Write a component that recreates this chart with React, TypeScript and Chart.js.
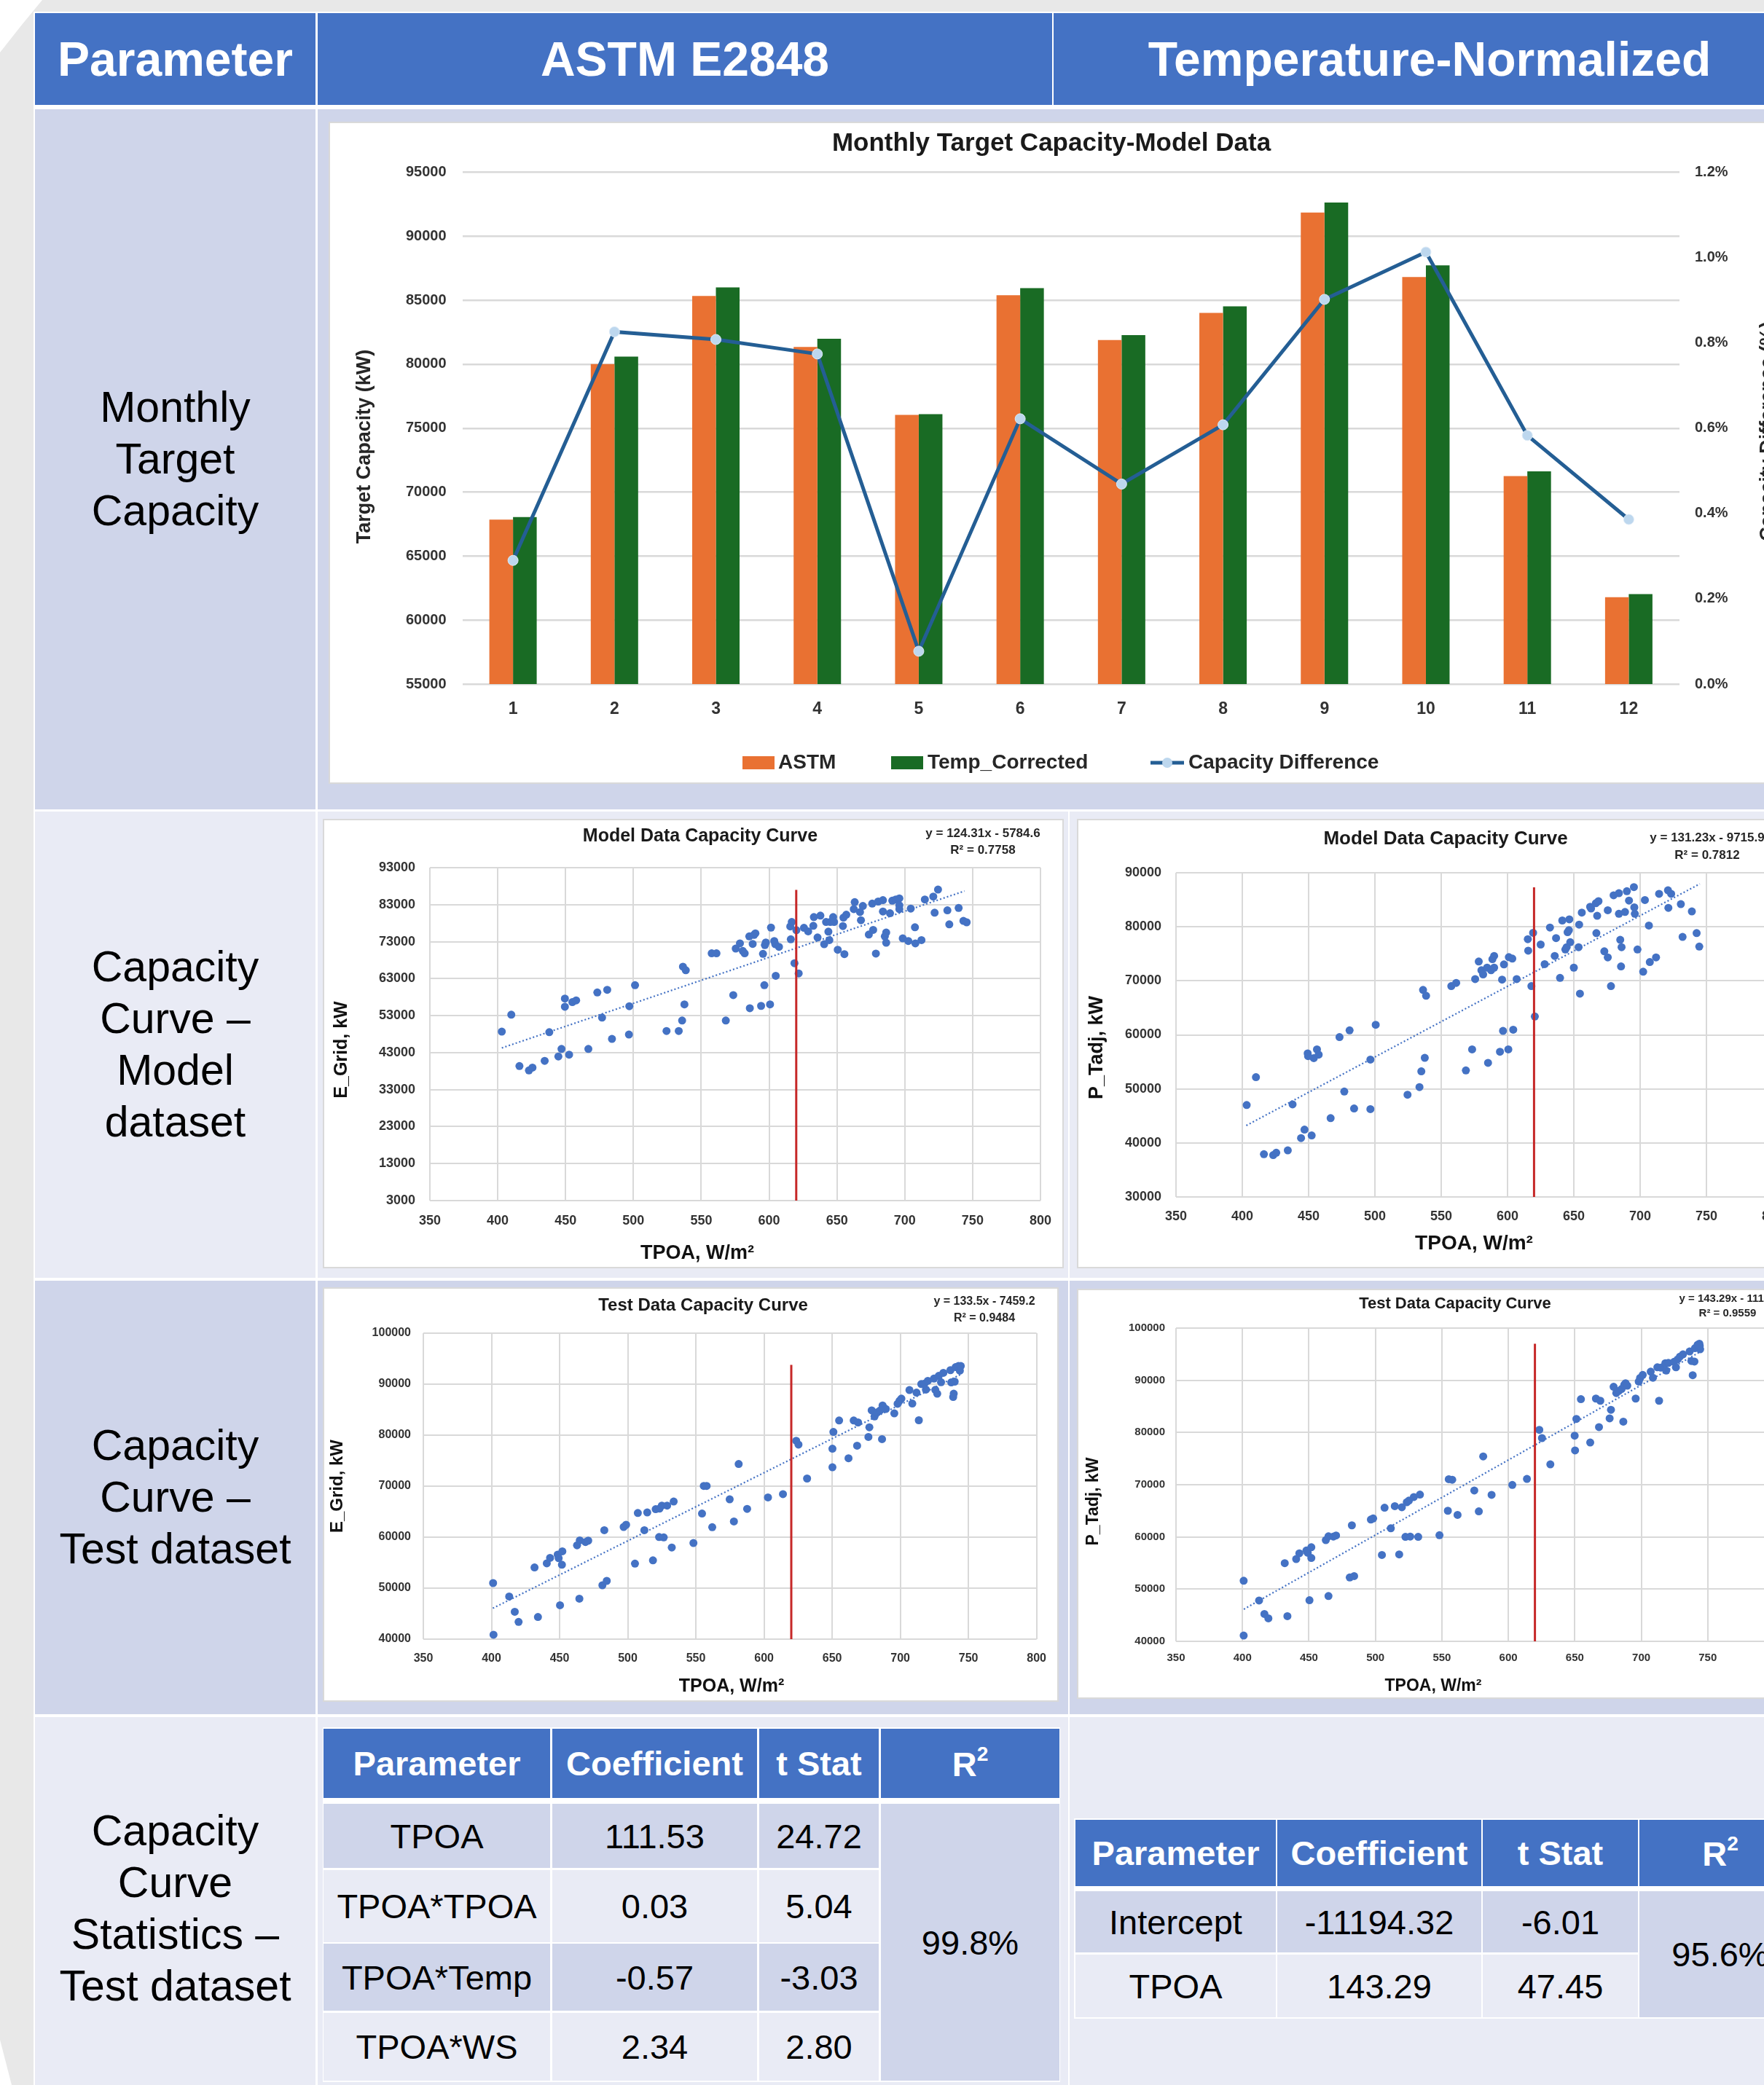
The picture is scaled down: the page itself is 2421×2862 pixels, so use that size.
import React, { useEffect, useRef } from "react";
import { Chart, registerables } from "chart.js";
Chart.register(...registerables);

const FONT = "'Liberation Sans', Arial, Helvetica, sans-serif";
const BLUE = "#4472C4";
const DARK = "#CFD5EA";
const LIGHT = "#E9EBF5";

// ---------- Monthly target capacity data ----------
const months = ["1", "2", "3", "4", "5", "6", "7", "8", "9", "10", "11", "12"];
const astmCapacity = [67850, 80010, 85330, 81350, 76040, 85390, 81890, 84010, 91860, 86810, 71250, 61790];
const tempCorrectedCapacity = [68050, 80600, 86000, 81990, 76100, 85940, 82270, 84520, 92640, 87730, 71620, 62030];
const capacityDifferencePct = [0.29, 0.826, 0.808, 0.774, 0.077, 0.622, 0.469, 0.608, 0.902, 1.013, 0.583, 0.386];

// ---------- Model dataset: TPOA vs E_Grid (ASTM) ----------
const modelAstmPts = [
  [403, 48680], [410, 53260], [416, 39360], [423, 38180], [425.6, 38960], [434.6, 40780], [438, 48530], [444.7, 41960],
  [447, 44000], [449.5, 57610], [449.5, 55400], [452.6, 42440], [455, 56660], [457.8, 57130], [466.8, 44000], [473.4, 59270],
  [476.9, 52470], [480.7, 59980], [484.2, 46700], [496.7, 47890], [497, 55550], [501.2, 61240], [524.4, 48840], [533.4, 48840],
  [535.9, 51680], [536.5, 66220], [538.6, 65270], [537.6, 56030], [557.7, 69850], [561.2, 69850], [568.1, 51680], [573.6, 58560],
  [575.4, 71120], [578.5, 72540], [580.6, 70490], [582, 69850], [585.4, 74430], [585.8, 55000], [587.9, 72380], [588.9, 74830],
  [589.9, 75230], [595.5, 69700], [596.5, 61240], [596.9, 72070], [597.6, 72770], [594.1, 55630], [600.7, 56030], [601.4, 76800],
  [603.8, 73170], [604.5, 72300], [604.9, 63770], [607.3, 71590], [616, 73640], [615.6, 77120], [616.7, 78310], [618.7, 67170],
  [620.1, 76090], [621.8, 64400], [625.7, 76730], [628.8, 75780], [632.6, 77280], [633, 79650], [635.7, 74120], [637.8, 80040],
  [640.6, 72300], [642, 78310], [643.7, 75700], [644.4, 73410], [645.1, 78310], [647.2, 79650], [647.9, 78310], [650.6, 70800],
  [654.4, 77200], [654.8, 79490], [655.5, 69620], [656.9, 80280], [662.4, 81780], [663.1, 83680], [667, 80990], [667.7, 78780],
  [669.1, 82650], [673.5, 74910], [676, 83280], [676.7, 76170], [678.7, 69770], [680.4, 83840], [683.9, 84230], [683.9, 81150],
  [685.3, 74430], [686.3, 75460], [686.3, 72700], [689.1, 80680], [690.8, 84070], [693.3, 84390], [696, 84700], [696, 82810],
  [696, 81780], [698.5, 73880], [702.6, 73170], [704.4, 81940], [707.5, 76880], [707.8, 72540], [712.3, 73410], [714.8, 84390],
  [721, 85180], [722, 80830], [724.5, 87080], [731.4, 81470], [732.8, 77670], [739.7, 82100], [743.2, 78620], [745.6, 78230],
];
const modelAstmTrend = [[403, 44260], [744, 86680]];
const modelAstmRef = [[620, 3000], [620, 87000]];

// ---------- Model dataset: TPOA vs P_Tadj (temperature-normalized) ----------
const modelTempPts = [
  [403.3, 47020], [410.3, 52170], [416.3, 37910], [423.3, 37750], [425.6, 38180], [434.3, 38620], [437.9, 47130], [444.3, 40900],
  [446.9, 42470], [449.3, 56560], [449.6, 56070], [452.3, 41380], [453.9, 55690], [456.3, 57320], [457.6, 56340], [466.6, 44580],
  [473.3, 59590], [476.9, 49510], [480.9, 60840], [484.3, 46370], [496.6, 46260], [496.6, 55420], [500.6, 61870], [524.6, 48920],
  [533.6, 50330], [535, 53250], [536.3, 68320], [538.6, 67240], [537.6, 55750], [557.6, 69020], [561.3, 69620], [568.6, 53420],
  [573.3, 57320], [575.6, 70330], [578.3, 73580], [580.3, 71950], [581.6, 71190], [584.6, 72440], [585.3, 54820], [587.6, 71950],
  [588.6, 74010], [589.9, 74610], [589.9, 72440], [594.3, 56880], [595.9, 70220], [596.6, 60730], [597.3, 73040], [600.6, 57320],
  [601, 74390], [603.6, 74120], [604.3, 60950], [606.9, 70330], [615.3, 77700], [615.6, 75580], [618, 69020], [619.3, 78890],
  [620.6, 63390], [625, 76720], [628, 73090], [632, 79860], [635.6, 74610], [636.6, 77910], [639.6, 70540], [641.3, 81170],
  [643.6, 75800], [644.6, 76230], [645.3, 79000], [646.3, 79380], [646.6, 81380], [647.3, 77150], [650, 72440], [653.6, 76230],
  [654, 80410], [654.6, 67620], [656, 82630], [662.3, 83710], [663, 83390], [666.6, 84360], [667, 78830], [667.6, 82030],
  [668.6, 84740], [673, 75470], [675.6, 83060], [675.6, 74340], [678, 69020], [680, 85830], [684, 86210], [684, 82410],
  [685, 77590], [685.6, 72660], [686, 76230], [688.6, 82740], [690, 86590], [691.6, 84850], [695.3, 87340], [695.6, 83600],
  [696, 82410], [698, 75800], [702.3, 71680], [703.6, 84960], [706.6, 80240], [707.3, 73470], [712, 74340], [714.3, 86100],
  [721, 86750], [721.3, 83500], [723.4, 86100], [730.7, 84200], [732, 78130], [739, 82840], [742.6, 78830], [744.6, 76340],
];
const modelTempTrend = [[403, 43220], [745, 87940]];
const modelTempRef = [[620, 30000], [620, 87300]];

// ---------- Test dataset: TPOA vs E_Grid (ASTM) ----------
const testAstmPts = [
  [401.2, 51000], [401.5, 40860], [413, 48370], [417.1, 45360], [419.9, 43380], [431.6, 54060], [434.1, 44340], [440.6, 54860],
  [443, 55940], [448.6, 56580], [449.3, 55880], [450.3, 46650], [452, 57230], [451.7, 54600], [462.8, 58410], [464.8, 59370],
  [464.5, 47940], [469, 59050], [471, 59320], [481.4, 50570], [482.8, 61360], [484.6, 51430], [497, 62000], [498.8, 62430],
  [505.3, 54810], [507.4, 64740], [512.2, 61360], [514.3, 64850], [518.5, 55450], [520.5, 65490], [523, 60020], [523.3, 65600],
  [525, 66190], [526.4, 59960], [528.9, 66190], [532.3, 57980], [533.7, 66990], [548.2, 58840], [554.5, 64630], [555.8, 70050],
  [557.9, 70050], [562, 61950], [574.8, 67420], [577.9, 63080], [581.4, 74350], [587.6, 65540], [602.9, 67800], [613.9, 68440],
  [623.6, 78910], [625.3, 78160], [631.6, 71500], [650.2, 73700], [650.2, 77350], [650.9, 80630], [655.1, 82880], [662, 75470],
  [665.8, 82880], [668.3, 77940], [669, 82500], [676.6, 79660], [677.3, 81540], [679, 84870], [681.1, 83680], [683.2, 84490],
  [685.3, 84870], [686.6, 79230], [687, 85830], [687.7, 85460], [689.4, 85130], [695.6, 84270], [698, 86150], [699.4, 86740],
  [700.8, 87170], [706.7, 88840], [708.8, 86210], [711.9, 88350], [713.6, 82930], [715.4, 90020], [717.8, 90120], [718.8, 88940],
  [720.2, 90660], [724.7, 91090], [725.7, 88890], [727.1, 88140], [728.2, 91630], [729.9, 90390], [731.6, 92220], [736.8, 92750],
  [737.4, 90340], [738.8, 87490], [739.2, 88140], [739.9, 90500], [740.6, 93340], [742.7, 93560], [743.7, 92650], [744.4, 93560],
];
const testAstmTrend = [[401, 46060], [745, 92000]];
const testAstmRef = [[620, 40000], [620, 93800]];

// ---------- Test dataset: TPOA vs P_Tadj (temperature-normalized) ----------
const testTempPts = [
  [400.9, 51610], [400.9, 41100], [412.5, 47830], [416.5, 45250], [419.5, 44410], [431.8, 54970], [433.8, 44830], [440.4, 55760],
  [442.8, 56860], [448.1, 57390], [449.1, 56970], [450.4, 47880], [451.8, 58020], [451.8, 55970], [462.7, 59390], [464.7, 60120],
  [464.7, 48670], [468.4, 60070], [470.4, 60280], [480.7, 52240], [482.3, 62220], [484, 52500], [496.6, 63330], [498.3, 63540],
  [504.9, 56550], [506.9, 65590], [511.6, 61650], [514.6, 65900], [517.9, 56650], [519.9, 65690], [522.6, 60020], [523.6, 66640],
  [525.2, 66950], [526.2, 60070], [528.9, 67640], [532.2, 60020], [533.5, 68110], [548.2, 60330], [554.5, 65010], [555.2, 71050],
  [557.8, 70950], [561.8, 64220], [574.4, 68900], [577.8, 64900], [581.1, 75410], [587.4, 68060], [603, 69950], [614, 71100],
  [623.3, 80510], [625.3, 78930], [631.6, 73890], [649.9, 79400], [650.2, 76570], [651.2, 82610], [654.6, 86390], [661.6, 78090],
  [665.9, 86500], [668.2, 81030], [669.2, 86080], [676.2, 82710], [677.2, 84340], [679.2, 88760], [681.2, 87550], [683.2, 87970],
  [685.2, 88340], [686.5, 82080], [687.2, 89120], [688.2, 89440], [689.5, 88970], [695.8, 86500], [698.1, 89750], [699.1, 90440],
  [701.1, 91020], [707.1, 91650], [708.8, 90490], [712.1, 92490], [713.4, 86080], [714.8, 92430], [718.1, 93270], [718.8, 91860],
  [720.4, 93330], [724.7, 93540], [726.1, 92490], [727.4, 94010], [729.1, 94540], [731.4, 94960], [736.4, 95530], [737.7, 93700],
  [738.7, 90970], [740, 93590], [740.4, 96160], [742.4, 96790], [743.7, 97000], [744.3, 95950], [744, 96580],
];
const testTempTrend = [[401, 46150], [745, 95550]];
const testTempRef = [[620, 40000], [620, 97000]];

// ---------- Statistics tables ----------
const statHeaders = ["Parameter", "Coefficient", "t Stat"];
const astmStatParams = ["TPOA", "TPOA*TPOA", "TPOA*Temp", "TPOA*WS"];
const astmStatCoef = ["111.53", "0.03", "-0.57", "2.34"];
const astmStatT = ["24.72", "5.04", "-3.03", "2.80"];
const astmStatR2 = "99.8%";
const tempStatParams = ["Intercept", "TPOA"];
const tempStatCoef = ["-11194.32", "143.29"];
const tempStatT = ["-6.01", "47.45"];
const tempStatR2 = "95.6%";

type TextItem = { t: string; x: number; y: number; size: number; bold?: boolean; align?: CanvasTextAlign; rot?: number; color?: string };

function drawTexts(ctx: CanvasRenderingContext2D, items: TextItem[]) {
  for (const it of items) {
    ctx.save();
    ctx.font = `${it.bold ? "bold " : ""}${it.size}px ${FONT}`;
    ctx.fillStyle = it.color || "#262626";
    ctx.textAlign = it.align || "center";
    ctx.textBaseline = "middle";
    ctx.translate(it.x, it.y);
    if (it.rot) ctx.rotate((it.rot * Math.PI) / 180);
    ctx.fillText(it.t, 0, 0);
    ctx.restore();
  }
}

function framePlugin(items: TextItem[], extra?: (ctx: CanvasRenderingContext2D) => void) {
  return {
    id: "frameTexts",
    beforeDraw(chart: any) {
      const ctx = chart.ctx as CanvasRenderingContext2D;
      ctx.save();
      ctx.fillStyle = "#ffffff";
      ctx.fillRect(0, 0, chart.width, chart.height);
      ctx.strokeStyle = "#D9D9D9";
      ctx.lineWidth = 2;
      ctx.strokeRect(1, 1, chart.width - 2, chart.height - 2);
      ctx.restore();
    },
    afterDraw(chart: any) {
      const ctx = chart.ctx as CanvasRenderingContext2D;
      drawTexts(ctx, items);
      if (extra) extra(ctx);
    },
  };
}

const ORANGE = "#E97132";
const GREEN = "#196B24";
const LINEBLUE = "#245E94";

function monthlyConfig(): any {
  const W = 2000, H = 909, L = 183.5, R = 1854, T = 69.5, B = 772;
  const tickFont = { family: FONT, size: 20, weight: "bold" as const };
  const legendY = 880;
  const texts: TextItem[] = [
    { t: "Monthly Target Capacity-Model Data", x: 992, y: 30, size: 35, bold: true, color: "#1a1a1a" },
    { t: "Target Capacity (kW)", x: 50, y: 446, size: 27, bold: true, rot: -90 },
    { t: "Capacity Difference (%)", x: 1976, y: 425, size: 27, bold: true, rot: -90 },
    { t: "ASTM", x: 617, y: legendY, size: 28, bold: true, align: "left" },
    { t: "Temp_Corrected", x: 822, y: legendY, size: 28, bold: true, align: "left" },
    { t: "Capacity Difference", x: 1180, y: legendY, size: 28, bold: true, align: "left" },
  ];
  const legend = (ctx: CanvasRenderingContext2D) => {
    ctx.save();
    ctx.fillStyle = ORANGE;
    ctx.fillRect(568, legendY - 9, 44, 18);
    ctx.fillStyle = GREEN;
    ctx.fillRect(772, legendY - 9, 44, 18);
    ctx.strokeStyle = LINEBLUE;
    ctx.lineWidth = 5;
    ctx.beginPath();
    ctx.moveTo(1128, legendY);
    ctx.lineTo(1174, legendY);
    ctx.stroke();
    ctx.fillStyle = "#BDD7EE";
    ctx.beginPath();
    ctx.arc(1151, legendY, 7, 0, Math.PI * 2);
    ctx.fill();
    ctx.restore();
  };
  return {
    type: "bar",
    data: {
      labels: months,
      datasets: [
        {
          type: "line", label: "Capacity Difference", data: capacityDifferencePct, yAxisID: "y1",
          borderColor: LINEBLUE, borderWidth: 5, pointRadius: 7, pointBackgroundColor: "#BDD7EE",
          pointBorderColor: "#DEEBF7", pointBorderWidth: 1, tension: 0, order: 0,
        },
        { label: "ASTM", data: astmCapacity, backgroundColor: ORANGE, yAxisID: "y", categoryPercentage: 0.467, barPercentage: 1, borderWidth: 0, order: 1 },
        { label: "Temp_Corrected", data: tempCorrectedCapacity, backgroundColor: GREEN, yAxisID: "y", categoryPercentage: 0.467, barPercentage: 1, borderWidth: 0, order: 2 },
      ],
    },
    options: {
      responsive: false, animation: false, events: [],
      layout: { padding: { top: T, left: 0, right: 0, bottom: 0 } },
      plugins: { legend: { display: false }, tooltip: { enabled: false }, title: { display: false } },
      scales: {
        x: {
          type: "category", grid: { display: false, drawTicks: false }, border: { display: false },
          ticks: { font: { family: FONT, size: 23, weight: "bold" }, color: "#333", padding: 21, maxRotation: 0, autoSkip: false },
          afterFit: (s: any) => { s.height = H - B; },
        },
        y: {
          position: "left", min: 55000, max: 95000,
          ticks: { stepSize: 5000, font: tickFont, color: "#333", padding: 22, callback: (v: any) => String(v) },
          grid: { color: "#D9D9D9", lineWidth: 2.5, drawTicks: false }, border: { display: false },
          afterFit: (s: any) => { s.width = L; },
        },
        y1: {
          position: "right", min: 0, max: 1.2,
          ticks: { stepSize: 0.2, font: tickFont, color: "#333", padding: 21, callback: (v: any) => Number(v).toFixed(1) + "%" },
          grid: { display: false, drawTicks: false }, border: { display: false },
          afterFit: (s: any) => { s.width = W - R; },
        },
      },
    },
    plugins: [framePlugin(texts, legend)],
  };
}

type ScatterSpec = {
  W: number; H: number; L: number; R: number; T: number; B: number;
  yMin: number; yMax: number; pts: number[][]; trend: number[][]; ref: number[][];
  tick: number; xPad: number; yPad: number; texts: TextItem[];
};

function scatterConfig(s: ScatterSpec): any {
  const toXY = (a: number[][]) => a.map((p) => ({ x: p[0], y: p[1] }));
  const tickFont = { family: FONT, size: s.tick, weight: "bold" as const };
  return {
    type: "scatter",
    data: {
      datasets: [
        { data: toXY(s.ref), showLine: true, borderColor: "#C62828", borderWidth: 3, pointRadius: 0, order: 0 },
        { data: toXY(s.trend), showLine: true, borderColor: BLUE, borderWidth: 2.2, borderDash: [2, 3], pointRadius: 0, order: 1 },
        { data: toXY(s.pts), backgroundColor: BLUE, borderWidth: 0, pointRadius: 5.5, order: 2 },
      ],
    },
    options: {
      responsive: false, animation: false, events: [],
      layout: { padding: { top: s.T, right: s.W - s.R, left: 0, bottom: 0 } },
      plugins: { legend: { display: false }, tooltip: { enabled: false } },
      scales: {
        x: {
          type: "linear", min: 350, max: 800,
          ticks: { stepSize: 50, font: tickFont, color: "#333", padding: s.xPad, maxRotation: 0, autoSkip: false, callback: (v: any) => String(v) },
          grid: { color: "#D9D9D9", lineWidth: 2, drawTicks: false }, border: { display: false },
          afterFit: (sc: any) => { sc.height = s.H - s.B; },
        },
        y: {
          type: "linear", min: s.yMin, max: s.yMax,
          ticks: { stepSize: 10000, font: tickFont, color: "#333", padding: s.yPad, callback: (v: any) => String(v) },
          grid: { color: "#D9D9D9", lineWidth: 2, drawTicks: false }, border: { display: false },
          afterFit: (sc: any) => { sc.width = s.L; },
        },
      },
    },
    plugins: [framePlugin(s.texts)],
  };
}

function ChartBox({ left, top, width, height, make }: { left: number; top: number; width: number; height: number; make: () => any }) {
  const ref = useRef<HTMLCanvasElement>(null);
  useEffect(() => {
    const chart = new Chart(ref.current as HTMLCanvasElement, make());
    return () => chart.destroy();
  }, []);
  return (
    <div style={{ position: "absolute", left, top, width, height }}>
      <canvas ref={ref} width={width} height={height} style={{ display: "block", width, height }} />
    </div>
  );
}

const abs = (l: number, t: number, w: number, h: number, bg: string): React.CSSProperties => ({
  position: "absolute", left: l, top: t, width: w, height: h, background: bg,
});

function Cell({ l, t, w, h, bg, children, style }: { l: number; t: number; w: number; h: number; bg: string; children?: React.ReactNode; style?: React.CSSProperties }) {
  return (
    <div style={{ ...abs(l, t, w, h, bg), display: "flex", alignItems: "center", justifyContent: "center", textAlign: "center", fontFamily: FONT, ...style }}>
      {children}
    </div>
  );
}

const labelStyle: React.CSSProperties = { fontSize: 59, lineHeight: "71px", color: "#000" };
const headStyle: React.CSSProperties = { fontSize: 66, fontWeight: "bold", color: "#fff", whiteSpace: "nowrap" };
const tHead: React.CSSProperties = { fontSize: 47, fontWeight: "bold", color: "#fff", whiteSpace: "nowrap" };
const tBody: React.CSSProperties = { fontSize: 47, color: "#000", whiteSpace: "nowrap" };

function StatTable({ cols, widths, headTop, headH, rowTops, rowHs, params, coef, tstat, r2, bgRect }: any) {
  const rowBg = (i: number) => (i % 2 === 0 ? DARK : LIGHT);
  const last = rowTops.length - 1;
  const bodyTop = rowTops[0];
  const bodyBottom = rowTops[last] + rowHs[last];
  return (
    <>
      <div style={abs(bgRect[0], bgRect[1], bgRect[2], bgRect[3], "#ffffff")} />
      {statHeaders.map((h: string, i: number) => (
        <Cell key={"h" + i} l={cols[i]} t={headTop} w={widths[i]} h={headH} bg={BLUE} style={tHead}>{h}</Cell>
      ))}
      <Cell l={cols[3]} t={headTop} w={widths[3]} h={headH} bg={BLUE} style={tHead}>
        <span>R<sup style={{ fontSize: "0.6em", verticalAlign: "0.75em" }}>2</sup></span>
      </Cell>
      {params.map((p: string, i: number) => (
        <React.Fragment key={"r" + i}>
          <Cell l={cols[0]} t={rowTops[i]} w={widths[0]} h={rowHs[i]} bg={rowBg(i)} style={tBody}>{p}</Cell>
          <Cell l={cols[1]} t={rowTops[i]} w={widths[1]} h={rowHs[i]} bg={rowBg(i)} style={tBody}>{coef[i]}</Cell>
          <Cell l={cols[2]} t={rowTops[i]} w={widths[2]} h={rowHs[i]} bg={rowBg(i)} style={tBody}>{tstat[i]}</Cell>
        </React.Fragment>
      ))}
      <Cell l={cols[3]} t={bodyTop} w={widths[3]} h={bodyBottom - bodyTop} bg={DARK} style={tBody}>{r2}</Cell>
    </>
  );
}

export default function App() {
  useEffect(() => {
    document.body.style.margin = "0";
    document.body.style.overflow = "hidden";
  }, []);

  const chartA: ScatterSpec = {
    W: 1017, H: 617, L: 147, R: 991, T: 67, B: 524, yMin: 3000, yMax: 93000,
    pts: modelAstmPts, trend: modelAstmTrend, ref: modelAstmRef, tick: 18, xPad: 17, yPad: 20,
    texts: [
      { t: "Model Data Capacity Curve", x: 518, y: 24, size: 25, bold: true, color: "#1a1a1a" },
      { t: "y = 124.31x - 5784.6", x: 906, y: 20, size: 17, bold: true },
      { t: "R² = 0.7758", x: 906, y: 43, size: 17, bold: true },
      { t: "E_Grid, kW", x: 26, y: 317, size: 25, bold: true, rot: -90, color: "#111" },
      { t: "TPOA, W/m²", x: 514, y: 597, size: 27, bold: true, color: "#111" },
    ],
  };
  const chartB: ScatterSpec = {
    W: 1000, H: 617, L: 136, R: 955, T: 74, B: 519, yMin: 30000, yMax: 90000,
    pts: modelTempPts, trend: modelTempTrend, ref: modelTempRef, tick: 18, xPad: 16, yPad: 20,
    texts: [
      { t: "Model Data Capacity Curve", x: 506, y: 28, size: 26, bold: true, color: "#1a1a1a" },
      { t: "y = 131.23x - 9715.9", x: 865, y: 26, size: 17, bold: true },
      { t: "R² = 0.7812", x: 865, y: 50, size: 17, bold: true },
      { t: "P_Tadj, kW", x: 28, y: 314, size: 27, bold: true, rot: -90, color: "#111" },
      { t: "TPOA, W/m²", x: 545, y: 583, size: 28, bold: true, color: "#111" },
    ],
  };
  const chartC: ScatterSpec = {
    W: 1010, H: 569, L: 138, R: 985, T: 63, B: 483, yMin: 40000, yMax: 100000,
    pts: testAstmPts, trend: testAstmTrend, ref: testAstmRef, tick: 16, xPad: 17, yPad: 17,
    texts: [
      { t: "Test Data Capacity Curve", x: 522, y: 25, size: 24, bold: true, color: "#1a1a1a" },
      { t: "y = 133.5x - 7459.2", x: 908, y: 20, size: 16, bold: true },
      { t: "R² = 0.9484", x: 908, y: 43, size: 16, bold: true },
      { t: "E_Grid, kW", x: 20, y: 273, size: 24, bold: true, rot: -90, color: "#111" },
      { t: "TPOA, W/m²", x: 561, y: 548, size: 25, bold: true, color: "#111" },
    ],
  };
  const chartD: ScatterSpec = {
    W: 1000, H: 563, L: 136, R: 957, T: 54, B: 484, yMin: 40000, yMax: 100000,
    pts: testTempPts, trend: testTempTrend, ref: testTempRef, tick: 15, xPad: 14, yPad: 15,
    texts: [
      { t: "Test Data Capacity Curve", x: 519, y: 21, size: 22, bold: true, color: "#1a1a1a" },
      { t: "y = 143.29x - 11194", x: 893, y: 14, size: 15, bold: true },
      { t: "R² = 0.9559", x: 893, y: 34, size: 15, bold: true },
      { t: "P_Tadj, kW", x: 23, y: 292, size: 23, bold: true, rot: -90, color: "#111" },
      { t: "TPOA, W/m²", x: 489, y: 546, size: 23, bold: true, color: "#111" },
    ],
  };

  return (
    <div style={{ position: "fixed", left: 0, top: 0, width: 2421, height: 2862, overflow: "hidden", background: "#E8E8E8", fontFamily: FONT }}>
      <div style={{ ...abs(0, 0, 60, 75, "#ffffff"), clipPath: "polygon(0 0, 58px 0, 30px 34px, 0 72px)" }} />
      <div style={{ ...abs(0, 2800, 20, 62, "#ffffff"), clipPath: "polygon(0 0, 16px 62px, 0 62px)" }} />
      <div style={abs(46, 16, 2421, 2900, "#ffffff")} />

      {/* header */}
      <Cell l={48} t={18} w={385} h={126} bg={BLUE} style={headStyle}>Parameter</Cell>
      <Cell l={436} t={18} w={1008} h={126} bg={BLUE} style={headStyle}>ASTM E2848</Cell>
      <Cell l={1446} t={18} w={1032} h={126} bg={BLUE} style={headStyle}>Temperature-Normalized</Cell>

      {/* row 1 */}
      <Cell l={48} t={150} w={385} h={961} bg={DARK} style={labelStyle}><div>Monthly<br />Target<br />Capacity</div></Cell>
      <div style={abs(436, 150, 2100, 961, DARK)} />
      <ChartBox left={451} top={167} width={2000} height={909} make={monthlyConfig} />

      {/* row 2 */}
      <Cell l={48} t={1114} w={385} h={640} bg={LIGHT} style={labelStyle}><div>Capacity<br />Curve –<br />Model<br />dataset</div></Cell>
      <div style={abs(436, 1114, 1030, 640, LIGHT)} />
      <div style={abs(1468, 1114, 1100, 640, LIGHT)} />
      <ChartBox left={443} top={1124} width={1017} height={617} make={() => scatterConfig(chartA)} />
      <ChartBox left={1478} top={1124} width={1000} height={617} make={() => scatterConfig(chartB)} />

      {/* row 3 */}
      <Cell l={48} t={1758} w={385} h={595} bg={DARK} style={labelStyle}><div>Capacity<br />Curve –<br />Test dataset</div></Cell>
      <div style={abs(436, 1758, 1030, 595, DARK)} />
      <div style={abs(1468, 1758, 1100, 595, DARK)} />
      <ChartBox left={443} top={1767} width={1010} height={569} make={() => scatterConfig(chartC)} />
      <ChartBox left={1478} top={1769} width={1000} height={563} make={() => scatterConfig(chartD)} />

      {/* row 4 */}
      <Cell l={48} t={2357} w={385} h={526} bg={LIGHT} style={labelStyle}><div>Capacity<br />Curve<br />Statistics –<br />Test dataset</div></Cell>
      <div style={abs(436, 2357, 1030, 600, LIGHT)} />
      <div style={abs(1468, 2357, 1100, 600, LIGHT)} />
      <StatTable
        cols={[444, 758, 1042, 1209]} widths={[311, 281, 164, 245]}
        headTop={2373} headH={95} rowTops={[2476, 2567, 2668, 2763]} rowHs={[88, 99, 92, 93]}
        params={astmStatParams} coef={astmStatCoef} tstat={astmStatT} r2={astmStatR2}
        bgRect={[443, 2371, 1012, 487]}
      />
      <StatTable
        cols={[1476, 1753, 2035, 2250]} widths={[275, 280, 213, 222]}
        headTop={2498} headH={91} rowTops={[2596, 2683]} rowHs={[84, 86]}
        params={tempStatParams} coef={tempStatCoef} tstat={tempStatT} r2={tempStatR2}
        bgRect={[1474, 2496, 1000, 275]}
      />
    </div>
  );
}
